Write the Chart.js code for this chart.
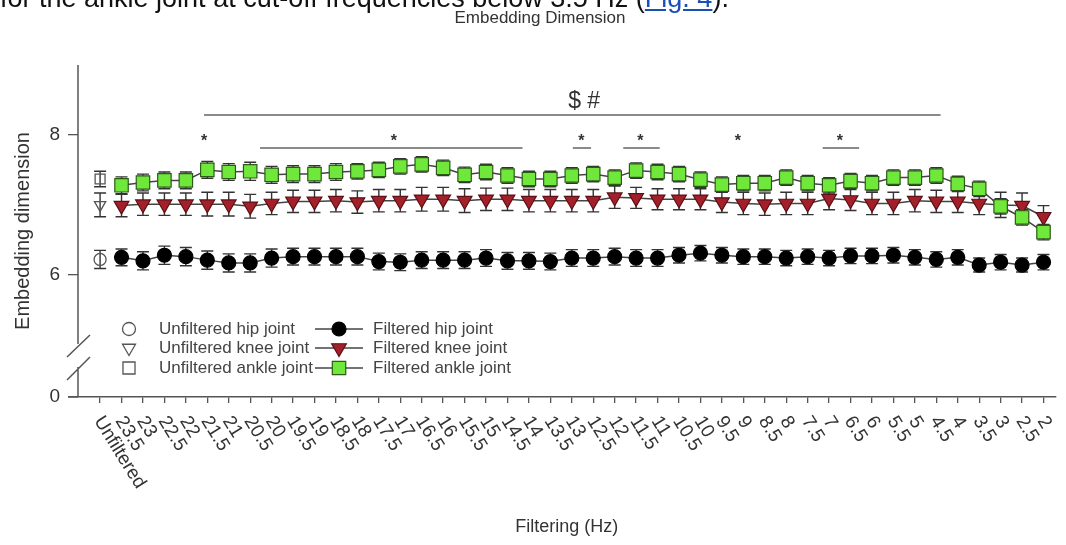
<!DOCTYPE html>
<html>
<head>
<meta charset="utf-8">
<script src="https://cdn.jsdelivr.net/npm/chart.js@4.4.1/dist/chart.umd.min.js"></script>
<style>
  html, body { margin: 0; padding: 0; background: #fff; overflow: hidden; }
  #wrap { position: relative; width: 1066px; height: 545px; overflow: hidden; }
  #c { position: absolute; left: 0; top: 0; }
  #lead { position: absolute; left: 0; top: -15px; z-index: 2; white-space: nowrap;
          font: 27px "Liberation Sans", Arial, sans-serif; line-height: 27px; color: #111; }
  #lead a { color: #1a4fb5; text-decoration: underline; }
</style>
</head>
<body>
<div id="wrap">
  <canvas id="c" width="1066" height="545"></canvas>
  <div id="lead">for the ankle joint at cut-off frequencies below 3.5 Hz (<a>Fig. 4</a>).</div>
</div>
<script>
// ---- categories (cut-off frequency, Hz) ----
const categories = ['Unfiltered','23.5','23','22.5','22','21.5','21','20.5','20','19.5','19','18.5','18',
  '17.5','17','16.5','16','15.5','15','14.5','14','13.5','13','12.5','12','11.5','11','10.5','10',
  '9.5','9','8.5','8','7.5','7','6.5','6','5.5','5','4.5','4','3.5','3','2.5','2'];

// ---- unfiltered signals: hip, knee, ankle ----
const unfilteredMeans  = [6.22, 7.00, 7.37];
const unfilteredErrors = [0.13, 0.17, 0.11];

// ---- filtered signals, 23.5 Hz down to 2 Hz ----
const hipFiltered = [6.25,6.20,6.28,6.26,6.21,6.17,6.17,6.24,6.26,6.26,6.26,6.26,6.19,6.18,6.21,6.21,
  6.21,6.24,6.20,6.20,6.19,6.24,6.24,6.26,6.24,6.24,6.28,6.31,6.28,6.26,6.26,6.24,6.26,6.24,6.27,6.27,
  6.28,6.25,6.22,6.25,6.14,6.18,6.14,6.18];
const hipFilteredErr = [0.12,0.13,0.13,0.13,0.13,0.13,0.13,0.13,0.12,0.12,0.12,0.12,0.12,0.12,0.12,0.12,
  0.12,0.12,0.12,0.12,0.12,0.12,0.12,0.12,0.12,0.12,0.11,0.11,0.11,0.11,0.11,0.11,0.11,0.11,0.11,0.11,
  0.11,0.11,0.11,0.11,0.10,0.11,0.10,0.11];

const kneeFiltered = [6.99,7.01,7.01,7.01,7.01,7.01,6.98,7.02,7.05,7.05,7.06,7.04,7.06,7.06,7.08,7.08,
  7.06,7.08,7.08,7.06,7.06,7.06,7.06,7.11,7.10,7.08,7.08,7.08,7.04,7.02,7.01,7.02,7.02,7.09,7.07,7.02,
  7.02,7.06,7.05,7.05,7.02,7.00,6.99,6.83];
const kneeFilteredErr = [0.16,0.16,0.16,0.16,0.17,0.17,0.17,0.16,0.16,0.16,0.16,0.16,0.16,0.16,0.17,0.17,
  0.17,0.16,0.16,0.16,0.16,0.16,0.16,0.16,0.15,0.15,0.15,0.15,0.15,0.16,0.16,0.16,0.16,0.16,0.15,0.16,
  0.16,0.16,0.16,0.16,0.16,0.18,0.18,0.16];

const ankleFiltered = [7.28,7.32,7.35,7.35,7.50,7.47,7.48,7.43,7.44,7.44,7.47,7.48,7.50,7.55,7.58,7.53,
  7.43,7.47,7.42,7.37,7.37,7.42,7.44,7.39,7.49,7.47,7.44,7.36,7.29,7.31,7.31,7.39,7.31,7.28,7.34,7.31,
  7.39,7.39,7.42,7.30,7.23,6.98,6.82,6.61];
const ankleFilteredErr = [0.12,0.12,0.12,0.12,0.12,0.12,0.13,0.12,0.12,0.12,0.12,0.11,0.11,0.11,0.11,0.11,
  0.11,0.11,0.11,0.11,0.11,0.11,0.11,0.11,0.11,0.11,0.11,0.11,0.11,0.11,0.11,0.11,0.11,0.11,0.11,0.11,
  0.11,0.11,0.11,0.11,0.11,0.11,0.11,0.11];

// ---- y tick values; the lowest one sits on the broken baseline and reads "0" ----
const yTickValues = [4.253, 6, 8];
const yTickLabels = ['0', '6', '8'];

// ---- significance marks (category index units) ----
const sigSpan = [4.85, 39.2];
const sigSpanLabel = '$ #';
const starPositions = [4.85, 13.7, 22.45, 25.2, 29.75, 34.5];
const starUnderlines = [[7.46, 19.7], [22.05, 22.9], [24.4, 26.1], [33.7, 35.4]];

const FONT = '"Liberation Sans", Arial, Helvetica, sans-serif';
const toPoints = vals => vals.map((v, k) => ({ x: k + 1, y: v }));

const styles = {
  hip:   { pointStyle: 'circle',   rotation: 0,   radius: 7,   fill: '#000000', border: '#000000' },
  knee:  { pointStyle: 'triangle', rotation: 180, radius: 8.5, fill: '#a3202a', border: '#5a1014' },
  ankle: { pointStyle: 'rect',     rotation: 0,   radius: 9.5, fill: '#6fe83b', border: '#2c5a17' }
};
const openRadius = { hip: 6, knee: 6.5, ankle: 7 };
const keyOpenRadius = { hip: 6.5, knee: 7.5, ankle: 8.5 };

function filteredSet(label, vals, errs, st, order) {
  return {
    label, data: toPoints(vals), errors: errs, order,
    showLine: true, borderColor: '#444', borderWidth: 1.5,
    pointStyle: st.pointStyle, pointRotation: st.rotation, pointRadius: st.radius,
    pointBackgroundColor: st.fill, pointBorderColor: st.border, pointBorderWidth: 1.2
  };
}
function unfilteredSet(label, idx, st, r) {
  return {
    label, data: [{ x: 0, y: unfilteredMeans[idx] }], errors: [unfilteredErrors[idx]], order: 5,
    showLine: false, pointStyle: st.pointStyle, pointRotation: st.rotation, pointRadius: r,
    pointBackgroundColor: 'rgba(255,255,255,0)', pointBorderColor: '#555', pointBorderWidth: 1.3
  };
}

const figureExtras = {
  id: 'figureExtras',
  beforeDatasetsDraw(chart) {
    const { ctx, scales: { x, y } } = chart;
    ctx.save();
    ctx.strokeStyle = '#333';
    ctx.lineWidth = 1.4;
    chart.data.datasets.forEach(ds => {
      ds.data.forEach((p, k) => {
        const e = ds.errors[k];
        const px = x.getPixelForValue(p.x);
        const t = y.getPixelForValue(p.y + e), b = y.getPixelForValue(p.y - e);
        ctx.beginPath();
        ctx.moveTo(px, t); ctx.lineTo(px, b);
        ctx.moveTo(px - 6, t); ctx.lineTo(px + 6, t);
        ctx.moveTo(px - 6, b); ctx.lineTo(px + 6, b);
        ctx.stroke();
      });
    });
    ctx.restore();
  },
  afterDraw(chart) {
    const { ctx, chartArea: area, scales: { x } } = chart;
    ctx.save();

    // y axis with a break above the zero baseline
    ctx.strokeStyle = '#555';
    ctx.lineWidth = 1.5;
    ctx.beginPath();
    ctx.moveTo(area.left, area.top); ctx.lineTo(area.left, 344);
    ctx.moveTo(area.left, 367); ctx.lineTo(area.left, area.bottom);
    ctx.moveTo(area.left - 10, area.bottom); ctx.lineTo(area.left, area.bottom);
    ctx.moveTo(67, 357); ctx.lineTo(90, 335);
    ctx.moveTo(67, 380); ctx.lineTo(90, 357);
    ctx.stroke();

    // slanted frequency labels
    ctx.fillStyle = '#333';
    ctx.font = '19px ' + FONT;
    ctx.textAlign = 'left';
    ctx.textBaseline = 'middle';
    categories.forEach((lab, i) => {
      const px = x.getPixelForValue(i);
      ctx.save();
      ctx.translate(px - 2, area.bottom + 21);
      ctx.rotate(58 * Math.PI / 180);
      ctx.fillText(lab, 0, 0);
      ctx.restore();
    });

    // chart heading
    ctx.fillStyle = '#333';
    ctx.font = '17px ' + FONT;
    ctx.textAlign = 'center';
    ctx.textBaseline = 'middle';
    ctx.fillText('Embedding Dimension', 540, 18);

    // significance marks
    ctx.strokeStyle = '#8a8a8a';
    ctx.lineWidth = 2;
    ctx.beginPath();
    ctx.moveTo(x.getPixelForValue(sigSpan[0]), 115);
    ctx.lineTo(x.getPixelForValue(sigSpan[1]), 115);
    starUnderlines.forEach(([a, b]) => {
      ctx.moveTo(x.getPixelForValue(a), 148);
      ctx.lineTo(x.getPixelForValue(b), 148);
    });
    ctx.stroke();
    ctx.fillStyle = '#333';
    ctx.font = '23px ' + FONT;
    ctx.textAlign = 'center';
    ctx.textBaseline = 'alphabetic';
    ctx.fillText(sigSpanLabel, x.getPixelForValue((sigSpan[0] + sigSpan[1]) / 2 + 0.55), 108);
    ctx.font = 'bold 16px ' + FONT;
    starPositions.forEach(p => ctx.fillText('*', x.getPixelForValue(p), 146));

    // key
    const rows = [329, 348, 368];
    const keys = ['hip', 'knee', 'ankle'];
    const names = ['hip joint', 'knee joint', 'ankle joint'];
    ctx.font = '17px ' + FONT;
    ctx.textAlign = 'left';
    ctx.textBaseline = 'middle';
    keys.forEach((k, r) => {
      const yy = rows[r], st = styles[k];
      ctx.strokeStyle = '#555'; ctx.fillStyle = 'rgba(255,255,255,0)'; ctx.lineWidth = 1.3;
      Chart.helpers.drawPoint(ctx, { pointStyle: st.pointStyle, rotation: st.rotation,
        radius: keyOpenRadius[k], borderWidth: 1.3 }, 129, yy);
      ctx.fillStyle = '#444';
      ctx.fillText('Unfiltered ' + names[r], 159, yy);
      ctx.strokeStyle = '#444'; ctx.lineWidth = 1.5;
      ctx.beginPath(); ctx.moveTo(315, yy); ctx.lineTo(363, yy); ctx.stroke();
      ctx.fillStyle = st.fill; ctx.strokeStyle = st.border; ctx.lineWidth = 1.2;
      Chart.helpers.drawPoint(ctx, { pointStyle: st.pointStyle, rotation: st.rotation,
        radius: st.radius, borderWidth: 1.2 }, 339, yy);
      ctx.fillStyle = '#444';
      ctx.fillText('Filtered ' + names[r], 373, yy);
    });
    ctx.restore();
  }
};

new Chart(document.getElementById('c'), {
  type: 'line',
  data: {
    datasets: [
      filteredSet('Filtered ankle joint', ankleFiltered, ankleFilteredErr, styles.ankle, 0),
      filteredSet('Filtered knee joint', kneeFiltered, kneeFilteredErr, styles.knee, 1),
      filteredSet('Filtered hip joint', hipFiltered, hipFilteredErr, styles.hip, 2),
      unfilteredSet('Unfiltered ankle joint', 2, styles.ankle, openRadius.ankle),
      unfilteredSet('Unfiltered knee joint', 1, styles.knee, openRadius.knee),
      unfilteredSet('Unfiltered hip joint', 0, styles.hip, openRadius.hip)
    ]
  },
  options: {
    responsive: false,
    animation: false,
    devicePixelRatio: 1,
    layout: { padding: { top: 65, left: 0, right: 0, bottom: 0 } },
    plugins: { legend: { display: false }, tooltip: { enabled: false } },
    scales: {
      x: {
        type: 'linear', min: -1.03, max: 44.55,
        afterBuildTicks: s => { s.ticks = categories.map((_, i) => ({ value: i })); },
        afterFit: s => { s.height = 148; },
        ticks: { display: false },
        grid: { drawOnChartArea: false, drawTicks: true, tickLength: 6, color: '#555', lineWidth: 1.3 },
        border: { display: true, color: '#555', width: 1.5 },
        title: { display: true, text: 'Filtering (Hz)', color: '#333',
                 font: { family: FONT, size: 18 }, padding: { top: 0, bottom: 7 } }
      },
      y: {
        type: 'linear', min: yTickValues[0], max: 9,
        afterBuildTicks: s => { s.ticks = yTickValues.map(v => ({ value: v })); },
        afterFit: s => { s.width = 78; },
        ticks: {
          color: '#333', padding: 8, font: { family: FONT, size: 19 },
          callback: v => yTickLabels[yTickValues.indexOf(v)]
        },
        grid: { drawOnChartArea: false, drawTicks: true, tickLength: 10, color: '#555', lineWidth: 1.3 },
        border: { display: false },
        title: { display: true, text: 'Embedding dimension', color: '#333',
                 font: { family: FONT, size: 20 }, padding: { top: 11, bottom: 0 } }
      }
    }
  },
  plugins: [figureExtras]
});
</script>
</body>
</html>
